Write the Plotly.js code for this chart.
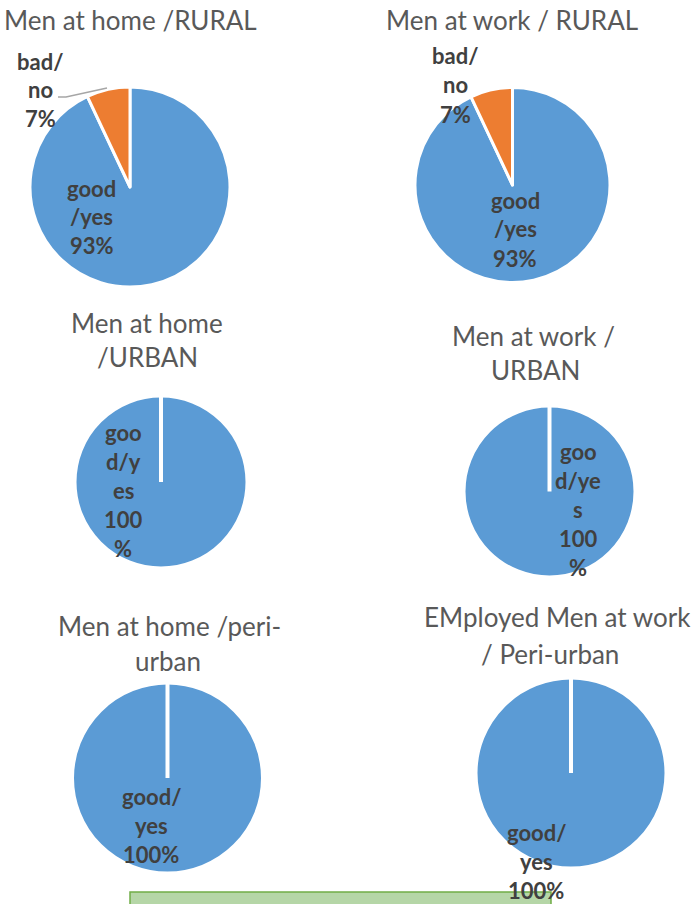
<!DOCTYPE html>
<html><head><meta charset="utf-8">
<script src="https://cdn.plot.ly/plotly-3.0.1.min.js"></script>
<style>html,body{margin:0;padding:0;background:#fff;}#chart{width:692px;height:904px;}</style>
</head><body><div id="chart"></div>
<script>
// ---- data ----
const sliceNames = ['good/yes', 'bad/no'];
const homeRural = [93, 7];
const workRural = [93, 7];
const homeUrban = [100];
const workUrban = [100];
const homePeri = [100];
const workPeri = [100];
const pieValues = [homeRural, workRural, homeUrban, workUrban, homePeri, workPeri];
const titleLines = [
  ['Men at home /RURAL'],
  ['Men at work / RURAL'],
  ['Men at home', '/URBAN'],
  ['Men at work /', 'URBAN'],
  ['Men at home /peri-', 'urban'],
  ['EMployed Men at work', '/ Peri-urban']
];
// displayed (wrapped) data labels: [good/yes, bad/no]
const goodLabelLines = [
  ['good', '/yes', '93%'],
  ['good', '/yes', '93%'],
  ['goo', 'd/y', 'es', '100', '%'],
  ['goo', 'd/ye', 's', '100', '%'],
  ['good/', 'yes', '100%'],
  ['good/', 'yes', '100%']
];
const badLabelLines = [
  ['bad/', 'no', '7%'],
  ['bad/', 'no', '7%'],
  null, null, null, null
];
const sliceColors = ['#5B9BD5', '#ED7D31'];

// ---- layout geometry (pixels) ----
const W = 692, H = 904;
const pieGeom = [ // cx, cy, r
  [130, 187, 100],
  [512.5, 185, 97.5],
  [161, 482, 86],
  [549.5, 491.5, 85.5],
  [167.5, 778, 95],
  [571, 773, 95]
];
const titlePos = [ // per line [x, y]
  [[130, 20]],
  [[512, 20]],
  [[147, 323], [147, 357]],
  [[533, 336], [535, 370]],
  [[169, 626], [168, 661]],
  [[557, 617], [550, 654]]
];
const goodLabelPos = [[92, 217], [515, 229], [123, 490], [578, 509], [151, 825], [536, 861]];
const badLabelPos = [[40, 90], [455, 85]];
const lineGap = 29;

const px = x => x / W, py = y => 1 - y / H;

const traces = pieValues.map((vals, i) => {
  const [cx, cy, r] = pieGeom[i];
  return {
    type: 'pie',
    values: vals,
    labels: sliceNames.slice(0, vals.length),
    sort: false,
    direction: 'clockwise',
    rotation: 0,
    textinfo: 'none',
    hoverinfo: 'label+percent',
    showlegend: false,
    marker: {colors: sliceColors, line: {color: '#ffffff', width: 3}},
    domain: {x: [px(cx - r), px(cx + r)], y: [py(cy + r), py(cy - r)]}
  };
});

const annotations = [];
const lab = (txt, x, y, font) => annotations.push({
  text: txt, x: px(x), y: py(y), xref: 'paper', yref: 'paper',
  showarrow: false, xanchor: 'center', yanchor: 'middle', font: font
});
const titleFont = {family: 'Lato, sans-serif', size: 26, color: '#595959'};
const labelFont = {family: 'Lato, sans-serif', size: 22, color: '#404040', weight: 'bold'};

titleLines.forEach((lines, i) => lines.forEach((t, j) => lab(t, titlePos[i][j][0], titlePos[i][j][1], titleFont)));
function addBlock(lines, pos) {
  const n = lines.length;
  lines.forEach((t, j) => lab('<b>' + t + '</b>', pos[0], pos[1] + (j - (n - 1) / 2) * lineGap, labelFont));
}
goodLabelLines.forEach((lines, i) => addBlock(lines, goodLabelPos[i]));
badLabelLines.forEach((lines, i) => { if (lines) addBlock(lines, badLabelPos[i]); });

const shapes = [];
// white radial separator line for single-slice (100%) pies
pieValues.forEach((vals, i) => {
  if (vals.length === 1) {
    const [cx, cy, r] = pieGeom[i];
    shapes.push({type: 'line', xref: 'paper', yref: 'paper',
      x0: px(cx), y0: py(cy), x1: px(cx), y1: py(cy - r - 1),
      line: {color: '#ffffff', width: 4}});
  }
});
// leader line for first pie's outside label
shapes.push({type: 'path', xref: 'paper', yref: 'paper',
  path: `M ${px(58)} ${py(97)} L ${px(66)} ${py(97)} L ${px(107)} ${py(88)}`,
  line: {color: '#A6A6A6', width: 1.5}});
// green box at the bottom
shapes.push({type: 'rect', xref: 'paper', yref: 'paper',
  x0: px(130), x1: px(551), y0: py(906), y1: py(892),
  fillcolor: '#B5D6A7', line: {color: '#70AD47', width: 1.5}, layer: 'below'});

const layout = {
  width: W, height: H,
  margin: {l: 0, r: 0, t: 0, b: 0},
  paper_bgcolor: '#ffffff',
  annotations: annotations,
  shapes: shapes
};
Plotly.newPlot('chart', traces, layout, {displayModeBar: false, staticPlot: true});
</script></body></html>
